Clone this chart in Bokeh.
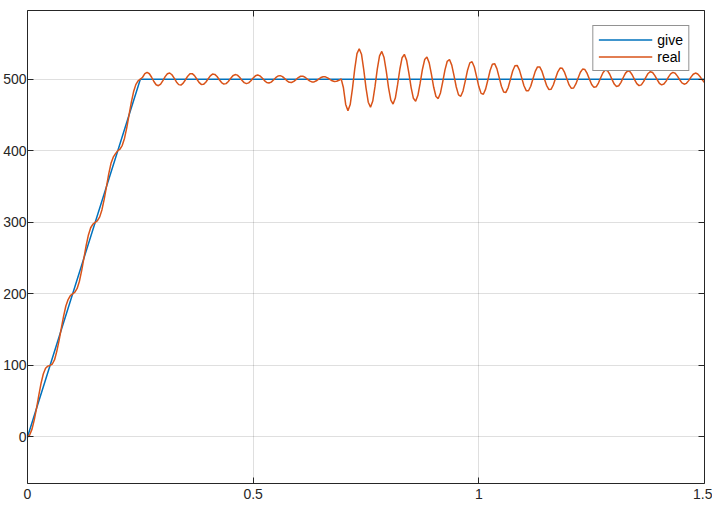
import numpy as np
from bokeh.plotting import figure
from bokeh.models import Range1d, FixedTicker, LinearAxis, Legend, LegendItem
from bokeh.embed import file_html
from bokeh.resources import INLINE

# ---- data ----
give_t = [0.0, 0.25, 1.5]
give_v = [0.0, 500.0, 500.0]

# "real" sampled every 0.005 s from 0 to 1.5 s
real_v = [
    # ramp 0 .. 0.25
    0, 3, 11, 24, 40, 58, 75, 88, 96, 99,
    100, 102, 108, 120, 135, 152, 169, 183, 192, 197.6,
    200, 202.4, 207.6, 217.6, 232.4, 250, 267.6, 282.4, 292.4, 297.6,
    300, 302.4, 307.6, 317.6, 332.4, 350, 367.6, 382.4, 391, 396,
    400, 402.4, 407.6, 417.6, 432.4, 450, 467.6, 482.4, 492.4, 497.6,
    500,
    # settled oscillation 0.255 .. 0.695
    502.7, 507.7, 509.5, 507.6, 502.7, 496.8, 492.3, 490.9, 493.1, 498.0,
    503.6, 507.7, 508.7, 506.2, 501.4, 496.1, 492.4, 491.8, 494.4, 499.2,
    504.2, 507.5, 507.7, 505.0, 500.3, 495.6, 492.7, 492.8, 495.7, 500.2,
    504.6, 507.1, 506.7, 503.7, 499.3, 495.3, 493.2, 493.8, 496.8, 501.1,
    504.8, 506.5, 505.7, 502.6, 498.6, 495.2, 493.8, 494.9, 497.9, 501.7,
    504.7, 505.8, 504.6, 501.6, 498.1, 495.4, 494.6, 495.9, 498.8, 502.1,
    504.5, 505.0, 503.6, 500.8, 497.8, 495.7, 495.4, 496.9, 499.5, 502.3,
    504.1, 504.2, 502.7, 500.2, 497.7, 496.2, 496.2, 497.8, 500.1, 502.3,
    503.5, 503.3, 501.8, 499.7, 497.8, 496.8, 497.1, 498.5, 500.5,
    # disturbance and decay 0.70 .. 1.5
    488.0, 464.8, 456.0, 464.6, 486.9, 514.1, 535.7, 542.5, 534.9, 513.5,
    487.9, 467.8, 460.9, 469.5, 489.9, 514.1, 532.7, 538.8, 530.3, 510.8,
    488.0, 470.7, 465.3, 473.7, 492.4, 513.9, 530.0, 534.7, 526.3, 508.5,
    488.3, 473.3, 469.3, 477.5, 494.5, 513.6, 527.4, 530.9, 522.8, 506.6,
    488.7, 475.8, 472.9, 480.8, 496.2, 513.1, 525.0, 527.5, 519.7, 505.0,
    489.1, 478.1, 476.1, 483.6, 497.7, 512.6, 522.8, 524.4, 517.1, 503.7,
    489.7, 480.2, 479.0, 486.1, 498.8, 512.1, 520.8, 521.7, 514.7, 502.6,
    490.2, 482.2, 481.5, 488.3, 499.8, 511.5, 518.9, 519.3, 512.7, 501.8,
    490.8, 484.0, 483.8, 490.2, 500.6, 510.9, 517.2, 517.1, 510.9, 501.1,
    491.4, 485.7, 485.9, 491.9, 501.2, 510.3, 515.6, 515.2, 509.4, 500.5,
    492.0, 487.2, 487.7, 493.3, 501.7, 509.7, 514.1, 513.4, 508.0, 500.1,
    492.6, 488.6, 489.3, 494.6, 502.1, 509.1, 512.8, 511.9, 506.9, 499.7,
    493.2, 489.8, 490.8, 495.6, 502.4, 508.5, 511.6, 510.5, 505.9, 499.5,
    493.8, 491.0, 492.1, 496.6, 502.6, 508.0, 510.5, 509.4, 505.0, 499.3,
    494.3, 492.0, 493.2, 497.3, 502.8, 507.4, 509.5, 508.3, 504.3, 499.2,
    494.8, 493.0, 494.2, 498.0, 502.9, 506.9, 508.6, 507.3, 503.7, 499.1,
    495.3,
]
real_t = np.linspace(0.0, 1.5, len(real_v))

x_ticks = [0, 0.5, 1, 1.5]
x_tick_labels = ["0", "0.5", "1", "1.5"]
y_ticks = [0, 100, 200, 300, 400, 500]
x_lim = (0, 1.5)
y_lim = (-65, 596)

BLUE = "#0072BD"
ORANGE = "#D95319"
AX = "#262626"
FONT = "Liberation Sans"

p = figure(width=712, height=514, x_range=Range1d(*x_lim), y_range=Range1d(*y_lim),
           output_backend="svg", toolbar_location=None,
           min_border_left=27, min_border_right=8, min_border_top=10, min_border_bottom=31)
p.background_fill_color = "white"
p.border_fill_color = "white"
p.outline_line_color = None

def style_axis(ax, ticks, show_labels):
    ax.ticker = FixedTicker(ticks=ticks)
    ax.axis_line_color = AX
    ax.axis_line_width = 1
    ax.major_tick_line_color = AX
    ax.major_tick_in = 6
    ax.major_tick_out = 0
    ax.minor_tick_line_color = None
    ax.major_label_text_font = FONT
    if show_labels:
        ax.major_label_text_color = AX
        ax.major_label_text_font_size = "14px"
        ax.major_label_standoff = 5
    else:
        # mirrored box axis: ticks only, no labels
        ax.major_label_text_color = None
        ax.major_label_standoff = 0

style_axis(p.xaxis[0], x_ticks, True)
p.xaxis[0].major_label_overrides = {float(k): v for k, v in zip(x_ticks, x_tick_labels)}
style_axis(p.yaxis[0], y_ticks, True)
p.yaxis[0].major_label_standoff = 1

top_ax = LinearAxis()
style_axis(top_ax, x_ticks, False)
p.add_layout(top_ax, "above")
right_ax = LinearAxis()
style_axis(right_ax, y_ticks, False)
p.add_layout(right_ax, "right")

p.xgrid.ticker = FixedTicker(ticks=x_ticks)
p.ygrid.ticker = FixedTicker(ticks=y_ticks)
for g in (p.xgrid[0], p.ygrid[0]):
    g.grid_line_color = AX
    g.grid_line_alpha = 0.15
    g.grid_line_width = 1

r1 = p.line(give_t, give_v, line_color=BLUE, line_width=1.5)
r2 = p.line(real_t, real_v, line_color=ORANGE, line_width=1.5)

legend = Legend(items=[LegendItem(label="give", renderers=[r1]),
                       LegendItem(label="real", renderers=[r2])],
                location="top_right")
legend.margin = 15
legend.padding = 5
legend.spacing = 0
legend.glyph_width = 54
legend.glyph_height = 17
legend.label_height = 17
legend.label_standoff = 5
legend.label_text_font = FONT
legend.label_text_font_size = "14px"
legend.label_text_color = "#000000"
legend.border_line_color = AX
legend.border_line_width = 1
legend.background_fill_color = "white"
legend.background_fill_alpha = 1
p.add_layout(legend)

open("out.html", "w").write(file_html(p, INLINE))
